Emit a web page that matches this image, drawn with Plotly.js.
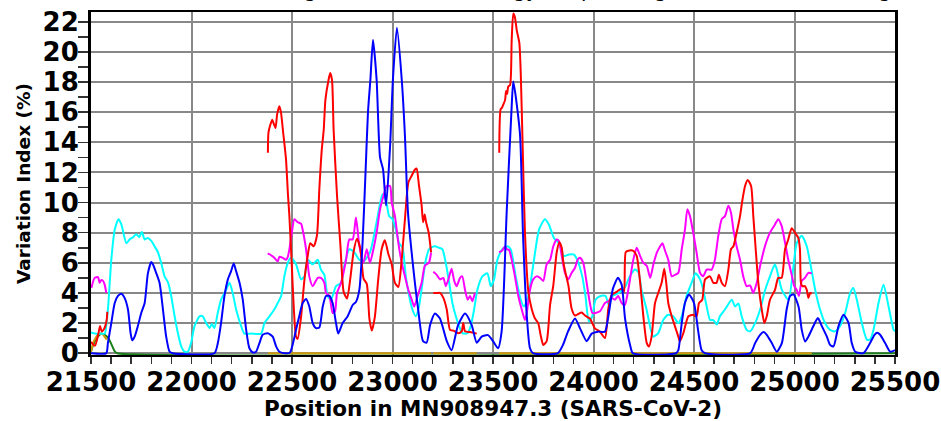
<!DOCTYPE html>
<html>
<head>
<meta charset="utf-8">
<script src="https://cdn.plot.ly/plotly-3.0.1.min.js"></script>
<style>
html,body{margin:0;padding:0;background:#fff;}
#chart{width:941px;height:421px;}
</style>
</head>
<body>
<div id="chart"></div>
<script>
// ---- Data ----
const greenX = [21500,21511,21528,21553,21570,21586,21603,21619,21630,25500];
const greenY = [0.1,0.55,1.0,1.3,1.2,1.0,0.55,0.1,0,0];

const orangeX = [21500,21511,21520,21536,21553,21565,21578, 21590, 22380,23192, 23197, 23203,23419, 23470, 23530,25086];
const orangeY = [0.1,0.7,0.95,1.25,1.3,1.15,0.9, null, 0,0, null, 0,0, null, 0,0];

const cyanX = [21500,21520,21550,21568,21584,21601,21618,21637,21651,21676,21692,21709,21725,21740,21753,21767,21783,21800,21816,21833,21849,21866,21883,21899,21916,21932,21949,21965,21982,21998,22015,22040,22056,22073,22090,22101,22114,22131,22147,22172,22189,22205,22222,22247,22263,22297,22346,22363,22388,22412,22429,22446,22462,22479,22495,22520,22545,22562,22578,22603,22628,22644,22661,22677,22694,22719,22744,22760,22785,22810,22835,22855,22888,22921,22950,22967,22983,23000,23017,23033,23050,23066,23083,23099,23116,23132,23149,23166,23182,23207,23232,23248,23265,23282,23298,23315,23331,23348,23373,23389,23406,23422,23447,23472,23489,23505,23522,23546,23571,23588,23613,23638,23654,23671,23687,23704,23729,23758,23778,23803,23828,23853,23878,23903,23919,23944,23960,23977,23994,24010,24035,24060,24076,24093,24126,24159,24181,24206,24223,24239,24264,24281,24297,24322,24347,24372,24397,24422,24439,24463,24488,24508,24530,24546,24563,24580,24596,24613,24629,24654,24688,24704,24721,24737,24762,24779,24804,24829,24854,24878,24903,24920,24937,24970,24995,25011,25036,25061,25078,25103,25127,25152,25177,25202,25227,25252,25277,25293,25310,25335,25360,25376,25393,25418,25443,25468,25493,25500];
const cyanY = [1.38,1.3,1.3,1.3,2.9,6.2,8.2,8.9,8.55,7.3,7.55,7.7,7.9,7.7,8.05,7.55,7.65,7.45,7.1,6.7,6.0,5.1,4.7,3.8,2.45,1.35,0.45,0.1,0.1,0.67,1.8,2.45,2.45,2.0,1.67,1.95,1.67,2.7,3.55,4.2,4.67,4.0,2.9,1.8,1.3,1.3,1.3,2.0,2.45,2.9,3.33,3.8,5.1,6.0,6.33,5.9,4.9,5.1,6.2,5.9,6.2,5.55,5.2,3.8,3.55,4.45,4.67,5.8,6.9,6.7,6.2,6.1,6.7,8.7,10.55,10.2,9.1,8.9,8.2,7.3,7.0,5.1,3.8,2.9,2.45,3.1,4.67,6.2,6.9,7.1,7.0,6.9,6.0,4.67,3.33,2.45,1.8,1.33,1.33,1.8,2.9,4.2,5.1,5.3,4.45,4.9,6.2,6.9,7.1,6.9,5.1,3.55,3.1,3.55,4.67,6.2,8.2,8.9,8.55,7.65,7.3,6.45,6.55,6.55,6.2,5.1,3.8,2.1,2.45,3.55,3.8,3.8,3.2,3.8,4.0,4.45,5.1,5.55,5.4,4.2,2.9,1.8,1.1,1.33,2.2,2.55,2.45,2.0,2.45,3.8,4.67,5.3,4.9,4.2,3.1,2.2,2.2,1.9,2.45,2.9,3.55,3.1,3.3,2.45,1.55,1.45,2.0,2.9,4.2,5.1,5.9,5.1,4.2,3.55,5.8,7.3,7.8,7.1,6.0,4.2,2.9,2.0,1.55,1.45,1.8,2.67,4.0,4.33,3.55,2.0,0.9,0.9,1.55,3.33,4.55,3.1,1.55,1.45];

const magentaX = [21502,21518,21535,21543,21551,21560,21568,21576, 21590,
  22379,22396,22412,22429,22437,22454,22470,22479,22487,22499,22512,22528,22545,22553,22570,22586,22603,22628,22644,22661,22669,22686,22702,22714,22724,22744,22769,22785,22802,22818,22835,22855,22872,22888,22905,22921,22938,22955,22971,22988,22996,23012,23029,23046,23062,23079,23096,23108,23125,23145,23161,23181,23192, 23197,
  23203,23220,23236,23253,23265,23278,23294,23307,23319,23336,23347,23361,23374,23386,23397,23410, 23470,
  23530,23545,23560,23568,23580,23593,23609,23626,23643,23659,23668,23684,23700,23717,23734,23750,23767,23784,23800,23817,23828,23842,23858,23875,23891,23908,23921,23933,23949,23966,23982,23994,24010,24032,24057,24074,24090,24106,24123,24140,24156,24173,24198,24215,24232,24248,24265,24282,24298,24315,24332,24343,24356,24372,24389,24405,24422,24439,24455,24467,24480,24496,24513,24530,24546,24563,24588,24604,24621,24638,24654,24671,24684,24696,24712,24729,24745,24762,24779,24795,24812,24829,24853,24878,24903,24919,24936,24953,24969,24986,24999,25011,25022,25036,25052,25069,25086];
const magentaY = [4.33,5.0,5.05,4.67,4.85,4.8,4.55,4.0, null,
  6.62,6.5,6.33,6.1,6.4,6.33,6.2,6.4,6.9,8.0,8.9,8.7,8.6,8.2,6.9,5.1,4.45,5.0,5.0,4.67,4.0,3.8,2.67,2.78,4.0,4.67,6.2,7.55,7.55,9.0,7.15,6.0,6.9,6.0,6.9,8.0,9.55,10.45,11.1,11.1,10.0,9.1,7.33,6.0,5.1,4.2,3.55,3.1,3.8,4.67,5.8,6.0,6.67, null,
  5.4,5.2,4.9,5.0,4.45,4.9,5.6,4.8,4.45,5.0,5.1,4.2,3.55,3.8,3.45,4.0, null,
  6.7,6.8,7.1,6.9,6.85,6.2,5.1,3.8,2.9,2.2,2.67,4.2,4.9,5.1,5.0,4.8,5.9,6.2,7.1,7.55,7.45,6.45,5.33,4.9,5.33,5.67,6.2,6.33,6.0,4.67,3.33,2.67,2.67,2.78,3.33,3.45,3.67,3.55,3.8,3.33,3.2,4.2,6.2,7.0,6.45,6.0,5.8,5.0,5.9,6.67,7.1,7.3,6.8,6.2,5.1,5.2,5.33,6.9,8.2,9.55,9.1,8.0,6.67,5.33,5.1,5.55,5.55,6.2,7.8,8.9,9.1,9.78,9.33,8.2,7.1,6.2,5.1,4.45,4.5,4.0,4.67,5.8,7.1,8.0,8.55,8.9,8.45,7.33,6.2,5.2,4.45,4.2,3.8,4.8,5.0,5.33,5.3];

const redX = [21500,21520,21536,21545,21553,21565,21578,21581, 21590,
  22380,22383,22393,22402,22410,22418,22426,22437,22445,22456,22470,22480,22487,22499,22509,22520,22528,22545,22562,22578,22591,22608,22624,22636,22648,22658,22666,22682,22690,22699,22707,22724,22741,22757,22774,22790,22806,22823,22840,22856,22872,22885,22897,22912,22929,22946,22962,22979,22996,23012,23029,23046,23062,23079,23096,23112,23120,23132,23145,23152,23160,23167,23180,23192, 23197,
  23203,23220,23236,23253,23270,23286,23303,23327,23344,23352,23361,23386,23419, 23470,
  23531,23538,23545,23551,23560,23565,23570,23576,23585,23593,23601,23609,23618,23631,23638,23648,23659,23676,23692,23709,23725,23737,23750,23767,23775,23784,23800,23817,23830,23842,23850,23863,23875,23891,23908,23924,23941,23958,23982,24007,24032,24057,24074,24090,24115,24140,24152,24160,24173,24198,24215,24232,24248,24265,24276,24289,24306,24322,24339,24352,24362,24372,24389,24405,24422,24430,24447,24472,24496,24513,24525,24541,24555,24580,24596,24612,24624,24638,24654,24671,24684,24696,24712,24729,24740,24754,24767,24784,24795,24807,24820,24837,24850,24862,24878,24903,24919,24936,24953,24969,24986,25002,25019,25027,25032,25039,25052,25061,25069,25078,25086];
const redY = [0.75,0.5,1.25,1.8,1.45,1.6,2.2,2.75, null,
  13.3,14.65,15.2,15.5,15.2,14.95,15.85,16.4,16.0,14.65,12.9,10.5,9.1,5.83,2.97,1.1,0.95,2.4,4.9,6.45,7.3,7.1,7.8,10.9,13.5,14.85,16.8,18.15,18.6,18.15,14.85,10.45,7.15,4.07,3.63,4.95,6.7,7.6,6.93,4.95,4.6,2.3,1.5,2.4,4.9,6.9,7.5,6.6,5.9,4.67,4.4,6.27,8.9,11.33,11.8,12.2,12.25,11.1,9.8,8.7,9.2,8.7,8.0,6.7, null,
  4.0,4.0,4.0,3.67,2.9,1.55,1.5,1.33,1.45,2.0,1.45,1.4,1.3, null,
  13.3,16.2,16.3,16.5,16.8,17.4,17.2,17.7,17.8,20.8,22.55,22.3,21.45,20.6,18.6,13.5,8.0,4.07,2.97,2.3,2.0,1.2,0.55,0.8,1.65,3.2,4.5,6.7,7.37,7.0,6.05,5.2,4.5,2.97,2.5,2.6,2.7,2.5,2.3,1.65,1.43,1.0,2.97,3.85,4.07,4.3,4.07,6.7,6.8,6.8,6.45,4.7,2.45,0.67,0.45,1.1,3.33,4.0,4.67,5.6,4.67,3.33,2.45,1.8,1.1,0.78,1.33,2.45,2.55,2.45,3.33,3.55,4.9,5.1,4.67,4.67,5.2,4.67,4.45,5.55,6.9,7.1,8.0,9.1,10.1,11.1,11.5,11.1,9.1,6.9,4.67,2.9,2.0,2.45,3.55,4.2,5.0,5.0,6.9,7.55,8.3,8.0,7.65,6.9,4.67,4.45,4.45,4.2,3.67,4.0,3.95];

const blueX = [21500,21576,21584,21601,21618,21634,21651,21667,21684,21697,21705,21717,21733,21750,21767,21783,21800,21808,21825,21841,21858,21874,21891,21907,22114,22131,22147,22164,22181,22197,22210,22222,22239,22255,22272,22288,22305,22321,22338,22354,22379,22404,22421,22437,22470,22490,22503,22520,22536,22553,22570,22586,22603,22619,22636,22653,22669,22686,22702,22719,22730,22752,22777,22802,22818,22835,22851,22867,22878,22890,22903,22921,22938,22953,22968,22988,23002,23022,23046,23062,23077,23102,23127,23152,23170,23187,23211,23236,23270,23294,23326,23361,23394,23419,23444,23475,23500,23525,23543,23568,23593,23601,23634,23649,23668,23684,23699,23823,23848,23873,23908,23933,23966,23991,24022,24057,24072,24097,24122,24140,24157,24182,24196,24411,24422,24439,24455,24475,24500,24520,24538,24555,24780,24804,24829,24846,24862,24887,24912,24937,24961,24978,24995,25020,25036,25053,25069,25094,25116,25136,25161,25177,25194,25219,25244,25269,25285,25302,25343,25376,25398,25412,25426,25451,25476,25500];
const blueY = [0,0,0.67,2.0,3.33,3.8,3.95,3.67,2.9,1.33,0.85,1.1,1.8,2.67,3.33,5.3,6.05,5.9,5.3,4.67,2.9,1.1,0.1,0,0,0.67,2.0,3.8,4.9,5.45,5.95,5.45,4.67,3.55,1.55,0.33,0.05,0.1,0.67,1.22,1.33,1.1,0.45,0.1,0,0.05,0.55,1.55,2.45,3.33,3.6,3.1,2.0,1.67,1.7,3.1,3.8,3.8,3.33,2.0,1.3,2.0,2.45,3.2,3.4,4.2,7.3,12.4,16.0,18.15,20.8,18.15,13.0,12.2,9.8,13.75,18.15,21.6,18.15,14.4,9.35,5.83,2.97,0.8,0.7,1.87,2.64,2.3,0.8,0.2,1.87,2.64,1.87,0.7,1.1,1.2,0.8,0.33,1.45,9.35,16.4,18.04,14.6,8.0,2.5,0.33,0,0,0.55,1.43,2.3,1.65,0.8,1.3,1.43,1.43,2.3,4.3,5.0,4.55,2.3,0.55,0,0,0.2,2.0,3.33,3.9,3.33,1.55,0.2,0,0,0.67,1.22,1.4,1.22,0.67,0.1,0.67,2.9,3.8,3.9,3.1,1.55,0.78,1.1,1.8,2.33,1.8,1.1,0.55,0.45,1.8,2.55,2.0,0.67,0.1,0,0.67,1.22,1.35,1.22,0.67,0.1,0.2];

const xTickVals = [21500,22000,22500,23000,23500,24000,24500,25000,25500];
const yTickVals = [0,2,4,6,8,10,12,14,16,18,20,22];

// ---- Chart ----
function line(x, y, color) {
  return {x: x, y: y, type: 'scatter', mode: 'lines', connectgaps: false,
          line: {color: color, width: 2, shape: 'spline', smoothing: 0.6},
          hoverinfo: 'skip', showlegend: false};
}
const traces = [
  line(greenX, greenY, '#1a7f1a'),
  line(orangeX, orangeY, '#d19a0c'),
  line(cyanX, cyanY, '#00ffff'),
  line(magentaX, magentaY, '#ff00ff'),
  line(redX, redY, '#ff0000'),
  line(blueX, blueY, '#0000ff')
];

const FAM = 'DejaVu Sans, Verdana, sans-serif';
const tickFont = {family: FAM, size: 26, color: '#000', weight: 'bold'};
const layout = {
  width: 941, height: 421,
  margin: {l: 91, r: 46, t: 12, b: 66, pad: 0},
  paper_bgcolor: '#fff', plot_bgcolor: '#fff',
  showlegend: false,
  xaxis: {
    range: [21500, 25500], tickvals: xTickVals, ticktext: xTickVals.map(String),
    showgrid: true, gridcolor: '#888', gridwidth: 2,
    ticks: 'outside', ticklen: 7, tickwidth: 1.5, tickcolor: '#333',
    minor: {dtick: 100, tick0: 21500, ticks: 'outside', ticklen: 7, tickwidth: 1.5, tickcolor: '#333', showgrid: false},
    showline: true, linecolor: '#000', linewidth: 2, mirror: true,
    zeroline: false, tickfont: tickFont,
    title: {text: 'Position in MN908947.3 (SARS-CoV-2)', standoff: 10,
            font: {family: FAM, size: 21.5, color: '#000', weight: 'bold'}}
  },
  yaxis: {
    range: [-0.12, 22.65], tickvals: yTickVals, ticktext: yTickVals.map(String),
    showgrid: true, gridcolor: '#888', gridwidth: 2,
    ticks: 'outside', ticklen: 10, tickwidth: 1.5, tickcolor: '#333',
    minor: {dtick: 1, tick0: 0, ticks: 'outside', ticklen: 10, tickwidth: 1.5, tickcolor: '#333', showgrid: false},
    showline: true, linecolor: '#000', linewidth: 3, mirror: true,
    zeroline: false, tickfont: tickFont,
    title: {text: 'Variation Index (%)', standoff: 2,
            font: {family: FAM, size: 18.5, color: '#000', weight: 'bold'}}
  },
  annotations: [{
    text: 'Variation Index (Sliding Window Methodology) – Spike Region (Window 100, Single)',
    xref: 'paper', yref: 'paper', x: 1.03, y: 1.024, xanchor: 'right', yanchor: 'bottom',
    showarrow: false, font: {family: FAM, size: 20, color: '#000'}
  }]
};
Plotly.newPlot('chart', traces, layout, {staticPlot: true, displayModeBar: false}).then(function (gd) {
  // nudge tick labels closer to the axis, as in the reference
  gd.querySelectorAll('.xtick text').forEach(function (t) {
    t.setAttribute('y', parseFloat(t.getAttribute('y') || 0) - 4);
  });
  gd.querySelectorAll('.ytick text').forEach(function (t) {
    t.setAttribute('x', parseFloat(t.getAttribute('x') || 0) + 6);
  });
});
</script>
</body>
</html>
